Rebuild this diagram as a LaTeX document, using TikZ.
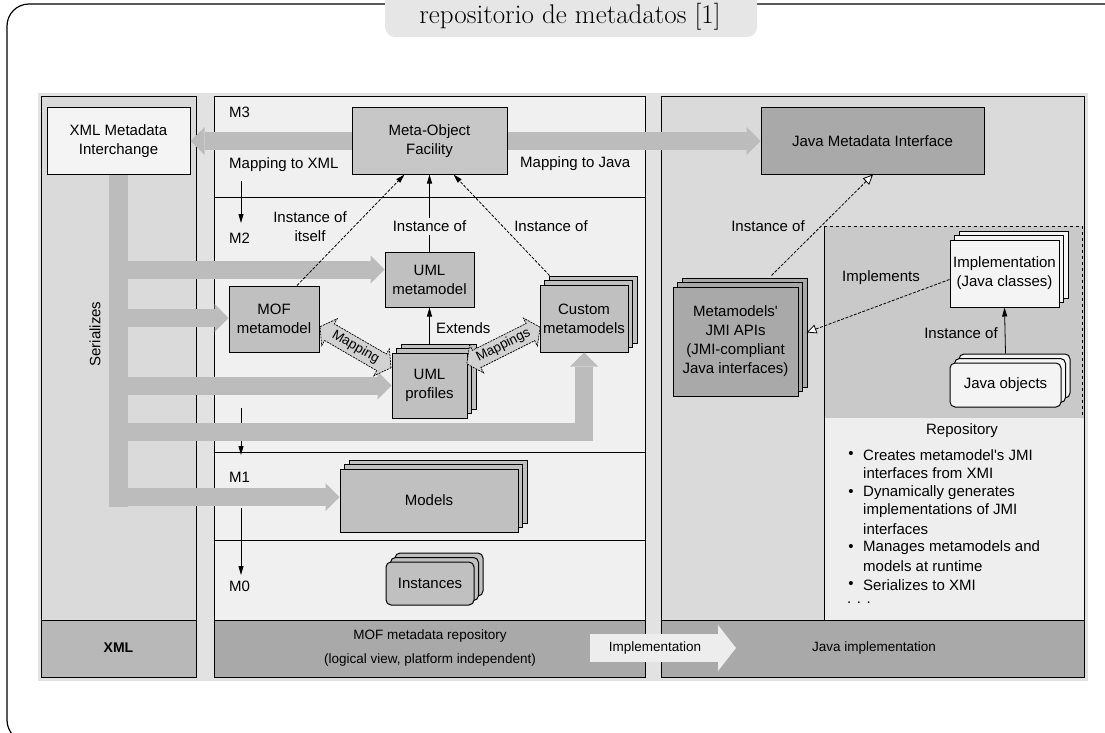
\documentclass[tikz,border=0pt]{standalone}
\usepackage{fontspec}
\usetikzlibrary{arrows.meta,shapes.arrows,shadows,calc}
\newfontfamily\diagsans{Liberation Sans}
\newcommand\dfont{\diagsans\fontsize{15}{19}\selectfont}
\newcommand\bandfont{\diagsans\fontsize{13.5}{24}\selectfont}
\definecolor{gapgray}{HTML}{E2E2E2}
\definecolor{colside}{HTML}{DADADA}
\definecolor{colmid}{HTML}{F0F0F0}
\definecolor{bandxml}{HTML}{B8B8B8}
\definecolor{banddark}{HTML}{A9A9A9}
\definecolor{fatgray}{HTML}{BCBCBC}
\definecolor{boxgray}{HTML}{C0C0C0}
\definecolor{boxmof}{HTML}{C7C7C7}
\definecolor{boxdark}{HTML}{A9A9A9}
\definecolor{boxlight}{HTML}{F4F4F4}
\definecolor{implzone}{HTML}{C9C9C9}
\definecolor{repozone}{HTML}{EEEEEE}
\definecolor{tabgray}{HTML}{E6E6E6}
\definecolor{mapfill}{HTML}{D2D2D2}
\definecolor{implarrow}{HTML}{EDEDED}

\tikzset{
  box/.style={draw=black, line width=1pt, inner sep=0pt, align=center, font=\dfont},
  stack/.style={box, fill=#1,
    double copy shadow={shadow xshift=4.5pt, shadow yshift=4.5pt, fill=#1, draw=black, line width=1pt}},
  lbl/.style={inner sep=0pt, font=\dfont},
  fat/.style={draw=fatgray, line width=18pt, line join=miter,
    -{Triangle[width=28pt,length=14pt,line width=0pt 0 0]}},
  fatbar/.style={draw=fatgray, line width=19pt},
  inst/.style={line width=0.8pt, -{Triangle[width=5pt,length=9pt]}},
  instd/.style={inst, dash pattern=on 3pt off 1.5pt},
  realize/.style={line width=0.8pt, dash pattern=on 3pt off 1.5pt,
    -{Triangle[width=9pt,length=10pt,fill=white,line width=0.8pt 0 0]}},
  maparrow/.style={double arrow, draw=black, line width=0.7pt, dash pattern=on 2pt off 1pt,
    fill=mapfill, font=\diagsans\fontsize{13.5}{13.5}\selectfont, inner xsep=0pt, inner ysep=3pt,
    text height=9.5pt, text depth=3pt, double arrow head extend=6pt,
    double arrow tip angle=110, minimum height=82pt},
  level/.style={line width=0.8pt, -{Triangle[width=5pt,length=9pt]}},
}

\begin{document}
\begin{tikzpicture}[x=1pt,y=-1pt]
\useasboundingbox (0,0) rectangle (1105,733);

% outer frame with title tab
\begin{scope}
  \clip (0,0) rectangle (1105,733);
  \draw[line width=1.2pt, rounded corners=22pt] (1130,4) -- (7,4) -- (7,742) -- (1130,742);
  \fill[tabgray, rounded corners=10pt] (385,-20) rectangle (757,37);
\end{scope}
\node[font=\fontsize{27}{31}\selectfont, inner sep=0pt] (title) at (570,17) {repositorio de metadatos [1]};

% three columns
\fill[gapgray] (38,93) rectangle (1088,681);
\fill[colside] (41,97) rectangle (196,677);
\fill[colmid] (214,97) rectangle (645,677);
\fill[colside] (661,97) rectangle (1084,677);
\fill[implzone] (824,226) rectangle (1084,418);
\fill[repozone] (824,418) rectangle (1084,620);
\fill[bandxml] (41,620) rectangle (196,677);
\fill[banddark] (214,620) rectangle (645,677);
\fill[banddark] (661,620) rectangle (1084,677);
\begin{scope}[line width=1pt]
  \draw (41,97) rectangle (196,677);
  \draw (214,97) rectangle (645,677);
  \draw (661,97) rectangle (1084,677);
  \draw (41,620) -- (196,620);
  \draw (214,620) -- (645,620);
  \draw (661,620) -- (1084,620);
  \draw (214,197) -- (645,197);
  \draw (214,452) -- (645,452);
  \draw (214,540) -- (645,540);
  \draw (824,226) -- (824,620);
  \draw[dashed] (824,226) -- (1082,226) -- (1082,418);
\end{scope}

% meta-level arrows
\coordinate (m2a) at (241,181); \coordinate (m2b) at (241,223);
\coordinate (m1a) at (241,408); \coordinate (m1b) at (241,455);
\coordinate (m0a) at (241,508); \coordinate (m0b) at (241,575);
\draw[level] (m2a) -- (m2b);
\draw[level] (m1a) -- (m1b);
\draw[level] (m0a) -- (m0b);

% boxes
\node[box, fill=boxlight, minimum width=143pt, minimum height=66pt] (xmi) at (118.5,141) {XML Metadata\\Interchange};
\node[box, fill=boxmof, minimum width=155pt, minimum height=66pt] (mof) at (429.5,141) {Meta-Object\\Facility};
\node[box, fill=boxdark, minimum width=223pt, minimum height=66pt] (jmi) at (872.5,141) {Java Metadata Interface};
\node[box, fill=boxgray, minimum width=89pt, minimum height=55pt] (umlmm) at (429.5,279.5) {UML\\metamodel};
\node[box, fill=boxgray, minimum width=90pt, minimum height=66pt] (mofmm) at (274,319) {MOF\\metamodel};
\node[stack=boxgray, minimum width=75pt, minimum height=65pt] (umlprof) at (429.5,385.5) {UML\\profiles};
\node[stack=boxgray, minimum width=88pt, minimum height=67pt] (custom) at (584,318.5) {Custom\\metamodels};
\node[stack=boxgray, minimum width=178pt, minimum height=63pt] (models) at (429,500.5) {Models};
\node[stack=boxgray, rounded corners=5pt, minimum width=88pt, minimum height=43pt] (instances) at (430,583.5) {Instances};
\node[stack=boxdark, minimum width=125pt, minimum height=109pt] (jmiapis) at (735.5,341.5) {Metamodels'\\JMI APIs\\(JMI-compliant\\Java interfaces)};
\node[stack=boxlight, minimum width=109pt, minimum height=67pt] (impl) at (1004.5,273.5) {Implementation\\(Java classes)};
\node[stack=boxlight, rounded corners=5pt, minimum width=111pt, minimum height=44pt] (jobj) at (1005.5,385) {Java objects};

% serialization and mapping flows
\coordinate (serEnd) at (118.5,507);
\coordinate (sb1) at (118.5,269.5);
\coordinate (sb2) at (118.5,318);
\coordinate (sb3) at (118.5,385.5);
\coordinate (sb4) at (118.5,432);
\coordinate (sb5) at (118.5,497);
\draw[fatbar] (xmi.south) -- (serEnd);
\draw[fat] (sb1) -- (sb1 -| umlmm.west);
\draw[fat] (sb2) -- (sb2 -| mofmm.west);
\draw[fat] (sb3) -- (umlprof.west);
\draw[fat] (sb4) -| (custom.south);
\draw[fat] (sb5) -- (sb5 -| models.west);
\draw[fat] (mof.west) -- (xmi.east);
\draw[fat] (mof.east) -- (jmi.west);

% instance-of and realization links
\draw[instd] ($(mofmm.north)+(23,0)$) -- ($(mof.south)+(-25,0)$);
\draw[instd] ($(custom.north west)+(10,-9)$) -- ($(mof.south)+(24,0)$);
\draw[inst] ($(umlprof.north)+(0,-9)$) -- (umlmm.south);
\draw[realize] ($(jmiapis.north west)+(99,-11)$) -- ($(jmi.south)+(0.5,0)$);
\draw[realize] ($(impl.west)+(0,6)$) -- ($(jmiapis.east)+(8,-9)$);
\draw[inst] ($(jobj.north)+(0,-9)$) -- (impl.south);

% mapping double arrows
\path ($(mofmm.east)+(1,8)$) -- ($(umlprof.west)+(-1,-18)$) node[midway, sloped, maparrow] (map1) {Mapping};
\path ($(umlprof.east)+(0,-22)$) -- ($(custom.west)+(0,9)$) node[midway, sloped, maparrow] (map2) {Mappings};

% labels
\node[lbl, anchor=west] (lm3) at (229,112) {M3};
\node[lbl, anchor=west] (lmx) at (229,165) {Mapping to XML};
\node[lbl, anchor=west] (lm2) at (229,238) {M2};
\node[lbl, anchor=west] (lm1) at (229,477) {M1};
\node[lbl, anchor=west] (lm0) at (229,586) {M0};
\node[lbl, anchor=west] (lmj) at (520,164) {Mapping to Java};
\node[lbl, align=center] (linst1) at (310,227) {Instance of\\itself};
\draw[inst] (umlmm.north) -- (mof.south);
\node[lbl, fill=colmid, inner sep=3pt] (linst2) at (429.5,226) {Instance of};
\node[lbl] (linst3) at (551,226) {Instance of};
\node[lbl, anchor=west] (lext) at (436,328) {Extends};
\node[lbl] (linst4) at (768,226) {Instance of};
\node[lbl] (limpls) at (881,278) {Implements};
\node[lbl] (linst5) at (961,333) {Instance of};
\node[lbl, rotate=90] (lser) at (95,334) {Serializes};

% repository notes
\node[lbl] (lrepo) at (962,431) {Repository};
\node[lbl] (bul1) at (851,455) {\textbullet};
\node[lbl] (bul2) at (851,493) {\textbullet};
\node[lbl] (bul3) at (851,548) {\textbullet};
\node[lbl] (bul4) at (851,585) {\textbullet};
\node[lbl, anchor=west] (rl1) at (863,455) {Creates metamodel's JMI};
\node[lbl, anchor=west] (rl2) at (863,473) {interfaces from XMI};
\node[lbl, anchor=west] (rl3) at (863,493) {Dynamically generates};
\node[lbl, anchor=west] (rl4) at (863,511) {implementations of JMI};
\node[lbl, anchor=west] (rl5) at (863,529) {interfaces};
\node[lbl, anchor=west] (rl6) at (863,548) {Manages metamodels and};
\node[lbl, anchor=west] (rl7) at (863,566) {models at runtime};
\node[lbl, anchor=west] (rl8) at (863,585) {Serializes to XMI};
\node[lbl, anchor=west] (rl9) at (847,603) {. . .};

% bottom band
\coordinate (implS) at (590,648);
\coordinate (implE) at (736,648);
\draw[draw=implarrow, line width=28pt, -{Triangle[width=46pt,length=18pt,line width=0pt 0 0]}] (implS) -- (implE);
\node[lbl, font=\diagsans\bfseries\fontsize{14}{16}\selectfont] (lxml) at (118.5,648) {XML};
\node[lbl, font=\bandfont, align=center] (lmofrep) at (430,648) {MOF metadata repository\\(logical view, platform independent)};
\node[lbl, font=\bandfont] (limpl) at (655,648) {Implementation};
\node[lbl, font=\bandfont] (ljava) at (874,648) {Java implementation};
\end{tikzpicture}
\end{document}
